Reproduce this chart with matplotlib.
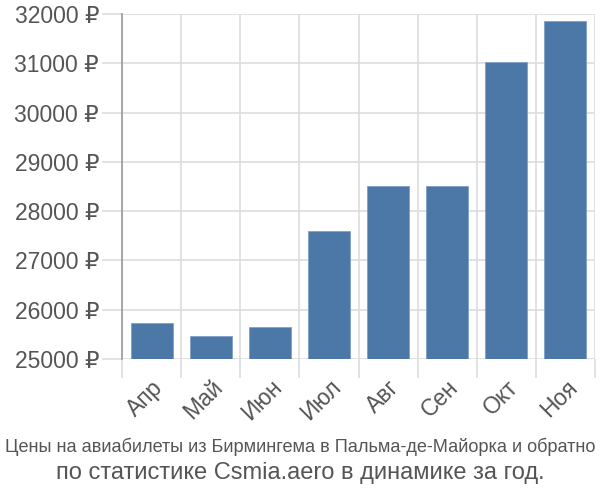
import matplotlib
matplotlib.use("Agg")
from matplotlib import pyplot as plt

months = ["Апр", "Май", "Июн", "Июл", "Авг", "Сен", "Окт", "Ноя"]
prices = [25740, 25460, 25650, 27600, 28510, 28510, 31020, 31850]
yticks = [25000, 26000, 27000, 28000, 29000, 30000, 31000, 32000]
title1 = "Цены на авиабилеты из Бирмингема в Пальма-де-Майорка и обратно"
title2 = "по статистике Csmia.aero в динамике за год."

plt.rcParams['font.family'] = ['Liberation Sans', 'DejaVu Sans']

fig = plt.figure(figsize=(6, 5), dpi=100)
ax = fig.add_axes([122/600, 1-359/500, (595-122)/600, (359-14)/500])

x = range(len(months))
ax.bar(x, [p - 25000 for p in prices], bottom=25000, width=0.71,
       color="#4c78a8", edgecolor="#7f9fc6", linewidth=0.6, zorder=3)

ax.set_ylim(25000, 32000)
ax.set_xlim(-0.5, len(months) - 0.5)
ax.set_yticks(yticks)
ax.set_yticklabels([f"{v} ₽" for v in yticks])
ax.set_xticks([i - 0.5 for i in range(len(months) + 1)], minor=False)
ax.set_xticklabels([""] * (len(months) + 1))
ax.set_xticks(list(x), minor=True)
ax.set_xticklabels(months, minor=True, rotation=45, ha="right",
                   rotation_mode="anchor")

ax.grid(True, which="major", color="#dddddd", linewidth=1.2, zorder=0)
ax.tick_params(axis="y", which="major", length=14.5, color="#dddddd",
               width=1.2, labelsize=16.5, labelcolor="#555555", pad=2)
ax.tick_params(axis="x", which="major", length=14, color="#dddddd",
               width=1.2)
ax.tick_params(axis="x", which="minor", length=0, pad=12,
               labelsize=16.5, labelcolor="#555555")
for s in ["top", "right", "bottom"]:
    ax.spines[s].set_visible(False)
ax.spines["left"].set_color("#999999")
ax.spines["left"].set_linewidth(1.2)

fig.text(0.5, 1-447/500, title1, ha="center", va="center", fontsize=13.1,
         color="#555555")
fig.text(0.5, 1-473/500, title2, ha="center", va="center", fontsize=17,
         color="#555555")

fig.savefig("out.png", dpi=100)
